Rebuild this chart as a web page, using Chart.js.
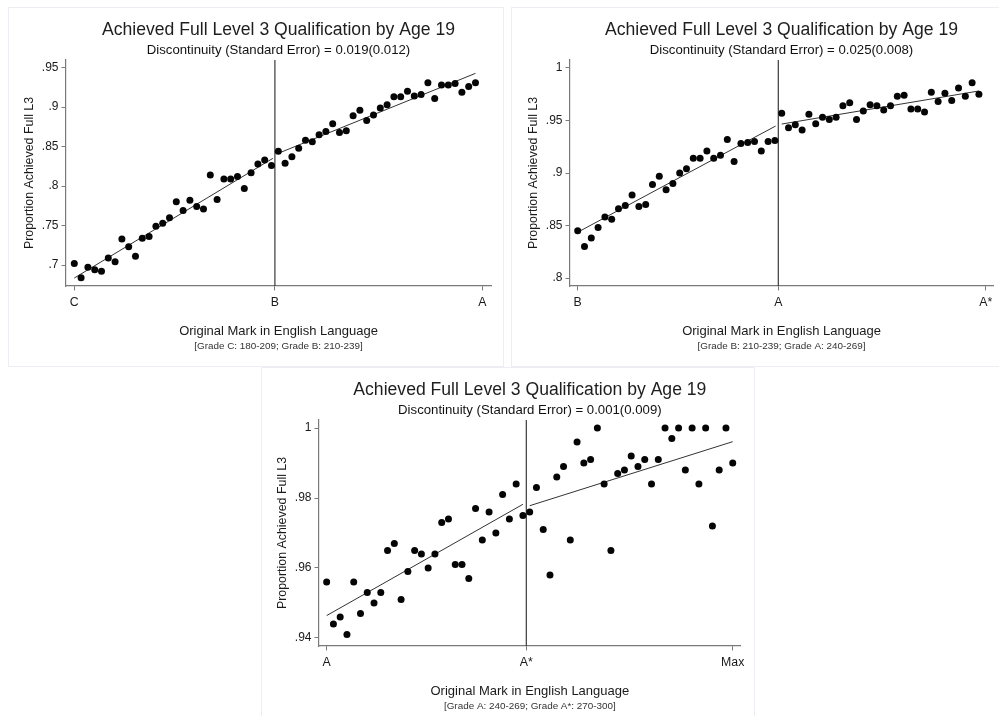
<!DOCTYPE html>
<html>
<head>
<meta charset="utf-8">
<title>Achieved Full Level 3 Qualification by Age 19</title>
<script src="https://cdn.jsdelivr.net/npm/chart.js@4.4.1/dist/chart.umd.min.js"></script>
<style>
  html, body { margin: 0; padding: 0; background: #fff; overflow: hidden; }
  body { width: 999px; height: 716px; position: relative; }
  .panel { position: absolute; border: 1px solid #eceef4; box-sizing: border-box; }
  .wrap { position: absolute; }
</style>
</head>
<body>
<div class="panel" style="left:8px;top:7px;width:496px;height:360px"></div>
<div class="panel" style="left:511px;top:7px;width:500px;height:360px"></div>
<div class="panel" style="left:261px;top:367px;width:494px;height:360px"></div>

<div class="wrap" style="left:8px;top:7px;width:489px;height:351px"><canvas id="chartCB"></canvas></div>
<div class="wrap" style="left:512px;top:7px;width:487px;height:351px"><canvas id="chartBA"></canvas></div>
<div class="wrap" style="left:261px;top:367px;width:488px;height:351px"><canvas id="chartAStar"></canvas></div>

<script>
// ---- data ----
const mainTitle = 'Achieved Full Level 3 Qualification by Age 19';
const yAxisTitle = 'Proportion Achieved Full L3';
const xAxisTitle = 'Original Mark in English Language';

// Panel 1: grade C / B boundary (marks 180-239)
const firstMarkCB = 180;
const valuesCB = [
  0.702, 0.684, 0.697, 0.694, 0.692, 0.709, 0.704, 0.733, 0.723, 0.711,
  0.734, 0.736, 0.749, 0.753, 0.760, 0.780, 0.769, 0.782, 0.774, 0.771,
  0.814, 0.783, 0.809, 0.809, 0.812, 0.797, 0.817, 0.828, 0.833, 0.826,
  0.844, 0.829, 0.837, 0.848, 0.858, 0.856, 0.865, 0.869, 0.879, 0.868,
  0.870, 0.889, 0.896, 0.883, 0.890, 0.899, 0.903, 0.913, 0.913, 0.920,
  0.914, 0.916, 0.931, 0.911, 0.928, 0.928, 0.930, 0.919, 0.926, 0.931
];
const fitLeftCB = [[180, 0.6835], [209.2, 0.8351]];
const fitRightCB = [[210, 0.8415], [239, 0.9428]];
const xTicksCB = [180, 209.5, 240];
const xLabelsCB = ['C', 'B', 'A'];
const yTicksCB = [0.7, 0.75, 0.8, 0.85, 0.9, 0.95];
const yLabelsCB = ['.7', '.75', '.8', '.85', '.9', '.95'];

// Panel 2: grade B / A boundary (marks 210-269)
const firstMarkBA = 210;
const valuesBA = [
  0.845, 0.830, 0.838, 0.848, 0.858, 0.856, 0.866, 0.869, 0.879, 0.868,
  0.870, 0.889, 0.897, 0.884, 0.890, 0.900, 0.904, 0.914, 0.914, 0.921,
  0.914, 0.917, 0.932, 0.911, 0.928, 0.929, 0.930, 0.921, 0.930, 0.931,
  0.957, 0.943, 0.946, 0.941, 0.956, 0.947, 0.953, 0.951, 0.953, 0.964,
  0.967, 0.951, 0.959, 0.965, 0.964, 0.960, 0.964, 0.973, 0.974, 0.961,
  0.961, 0.958, 0.977, 0.968, 0.976, 0.969, 0.981, 0.973, 0.986, 0.975
];
const fitLeftBA = [[210, 0.8436], [239.1, 0.9447]];
const fitRightBA = [[240, 0.9466], [269, 0.9781]];
const xTicksBA = [210, 239.5, 270];
const xLabelsBA = ['B', 'A', 'A*'];
const yTicksBA = [0.8, 0.85, 0.9, 0.95, 1];
const yLabelsBA = ['.8', '.85', '.9', '.95', '1'];

// Panel 3: grade A / A* boundary (marks 240-300)
const firstMarkAStar = 240;
const valuesAStar = [
  0.956, 0.944, 0.946, 0.941, 0.956, 0.947, 0.953, 0.950, 0.953, 0.965,
  0.967, 0.951, 0.959, 0.965, 0.964, 0.960, 0.964, 0.973, 0.974, 0.961,
  0.961, 0.957, 0.977, 0.968, 0.976, 0.970, 0.981, 0.974, 0.984, 0.975,
  0.976, 0.983, 0.971, 0.958, 0.986, 0.989, 0.968, 0.996, 0.990, 0.991,
  1.000, 0.984, 0.965, 0.987, 0.988, 0.992, 0.989, 0.991, 0.984, 0.991,
  1.000, 0.997, 1.000, 0.988, 1.000, 0.984, 1.000, 0.972, 0.988, 1.000,
  0.990
];
const fitLeftAStar = [[240, 0.9464], [269, 0.9782]];
const fitRightAStar = [[270, 0.9778], [300, 0.9961]];
const xTicksAStar = [240, 269.5, 300];
const xLabelsAStar = ['A', 'A*', 'Max'];
const yTicksAStar = [0.94, 0.96, 0.98, 1];
const yLabelsAStar = ['.94', '.96', '.98', '1'];

// ---- drawing ----
Chart.defaults.font.family = '"Liberation Sans", Arial, sans-serif';
Chart.defaults.color = '#222';

const AXIS_COLOR = '#7a7a7a';
const LINE_COLOR = '#333';

// small bracketed note under the x-axis title
const gradeNotePlugin = {
    id: 'gradeNote',
    afterDraw(chart, args, opts) {
        if (!opts.text) return;
        const { ctx, chartArea } = chart;
        ctx.save();
        ctx.font = '9.9px "Liberation Sans", Arial, sans-serif';
        ctx.fillStyle = '#333';
        ctx.textAlign = 'center';
        ctx.textBaseline = 'middle';
        ctx.fillText(opts.text, (chartArea.left + chartArea.right) / 2, chartArea.bottom + opts.offset);
        ctx.restore();
    }
};

function toPoints(pairs) {
    return pairs.map(([x, y]) => ({ x, y }));
}

function renderPanel(id, cfg) {
    const points = cfg.values.map((v, i) => ({ x: cfg.firstMark + i, y: v }));
    const cutoff = cfg.xTicks[1];

    new Chart(document.getElementById(id), {
        type: 'scatter',
        data: {
            datasets: [
                {
                    data: points,
                    pointRadius: 3.5,
                    pointHoverRadius: 3.5,
                    backgroundColor: '#050505',
                    borderWidth: 0,
                    order: 0
                },
                {
                    data: toPoints(cfg.fitLeft),
                    showLine: true,
                    pointRadius: 0,
                    borderColor: LINE_COLOR,
                    borderWidth: 1,
                    order: 1
                },
                {
                    data: toPoints(cfg.fitRight),
                    showLine: true,
                    pointRadius: 0,
                    borderColor: LINE_COLOR,
                    borderWidth: 1,
                    order: 1
                },
                {
                    // vertical line at the grade boundary
                    data: [{ x: cutoff, y: cfg.yMin }, { x: cutoff, y: cfg.yMax }],
                    showLine: true,
                    pointRadius: 0,
                    borderColor: '#3a3a3a',
                    borderWidth: 1.2,
                    order: 2
                }
            ]
        },
        options: {
            responsive: true,
            maintainAspectRatio: false,
            animation: false,
            events: [],
            layout: { padding: { left: 0, top: 0, right: 6, bottom: 0 } },
            plugins: {
                legend: { display: false },
                tooltip: { enabled: false },
                title: {
                    display: true,
                    text: mainTitle,
                    fullSize: false,
                    color: '#1e1e1e',
                    font: { size: 17.6, weight: 'normal' },
                    padding: { top: 12.44, bottom: 0 }
                },
                subtitle: {
                    display: true,
                    text: cfg.subtitle,
                    fullSize: false,
                    color: '#111',
                    font: { size: 13.2, weight: 'normal' },
                    padding: { top: 2.22, bottom: 1.38 }
                },
                gradeNote: { text: cfg.note, offset: 60.7 }
            },
            scales: {
                x: {
                    type: 'linear',
                    min: cfg.xMin,
                    max: cfg.xMax,
                    afterFit: (scale) => { scale.height = 72; },
                    afterBuildTicks: (scale) => { scale.ticks = cfg.xTicks.map(v => ({ value: v })); },
                    ticks: {
                        autoSkip: false,
                        maxRotation: 0,
                        padding: 4.5,
                        color: '#1a1a1a',
                        font: { size: 12.3 },
                        callback: (value, index) => cfg.xLabels[index]
                    },
                    grid: { drawOnChartArea: false, drawTicks: true, tickLength: 4.5, color: AXIS_COLOR, lineWidth: 1 },
                    border: { display: true, color: AXIS_COLOR, width: 1.2 },
                    title: {
                        display: true,
                        text: xAxisTitle,
                        color: '#1a1a1a',
                        font: { size: 13 },
                        padding: { top: 0, bottom: 19.2 }
                    }
                },
                y: {
                    type: 'linear',
                    min: cfg.yMin,
                    max: cfg.yMax,
                    afterFit: (scale) => { scale.width = 58; },
                    afterBuildTicks: (scale) => { scale.ticks = cfg.yTicks.map(v => ({ value: v })); },
                    ticks: {
                        autoSkip: false,
                        padding: 3,
                        color: '#1a1a1a',
                        font: { size: 12 },
                        callback: (value, index) => cfg.yLabels[index]
                    },
                    grid: { drawOnChartArea: false, drawTicks: true, tickLength: 4.5, color: AXIS_COLOR, lineWidth: 1 },
                    border: { display: true, color: AXIS_COLOR, width: 1.2 },
                    title: {
                        display: true,
                        text: yAxisTitle,
                        color: '#1a1a1a',
                        font: { size: 12.4 },
                        padding: { top: 14.5, bottom: 0 }
                    }
                }
            }
        },
        plugins: [gradeNotePlugin]
    });
}

renderPanel('chartCB', {
    values: valuesCB, firstMark: firstMarkCB,
    fitLeft: fitLeftCB, fitRight: fitRightCB,
    xTicks: xTicksCB, xLabels: xLabelsCB, yTicks: yTicksCB, yLabels: yLabelsCB,
    xMin: 178.78, xMax: 241.28, yMin: 0.6734, yMax: 0.9597,
    subtitle: 'Discontinuity (Standard Error) = 0.019(0.012)',
    note: '[Grade C: 180-209; Grade B: 210-239]'
});

renderPanel('chartBA', {
    values: valuesBA, firstMark: firstMarkBA,
    fitLeft: fitLeftBA, fitRight: fitRightBA,
    xTicks: xTicksBA, xLabels: xLabelsBA, yTicks: yTicksBA, yLabels: yLabelsBA,
    xMin: 208.87, xMax: 271.07, yMin: 0.7924, yMax: 1.0076,
    subtitle: 'Discontinuity (Standard Error) = 0.025(0.008)',
    note: '[Grade B: 210-239; Grade A: 240-269]'
});

renderPanel('chartAStar', {
    values: valuesAStar, firstMark: firstMarkAStar,
    fitLeft: fitLeftAStar, fitRight: fitRightAStar,
    xTicks: xTicksAStar, xLabels: xLabelsAStar, yTicks: yTicksAStar, yLabels: yLabelsAStar,
    xMin: 238.87, xMax: 301.18, yMin: 0.93771, yMax: 1.00229,
    subtitle: 'Discontinuity (Standard Error) = 0.001(0.009)',
    note: '[Grade A: 240-269; Grade A*: 270-300]'
});
</script>
</body>
</html>
